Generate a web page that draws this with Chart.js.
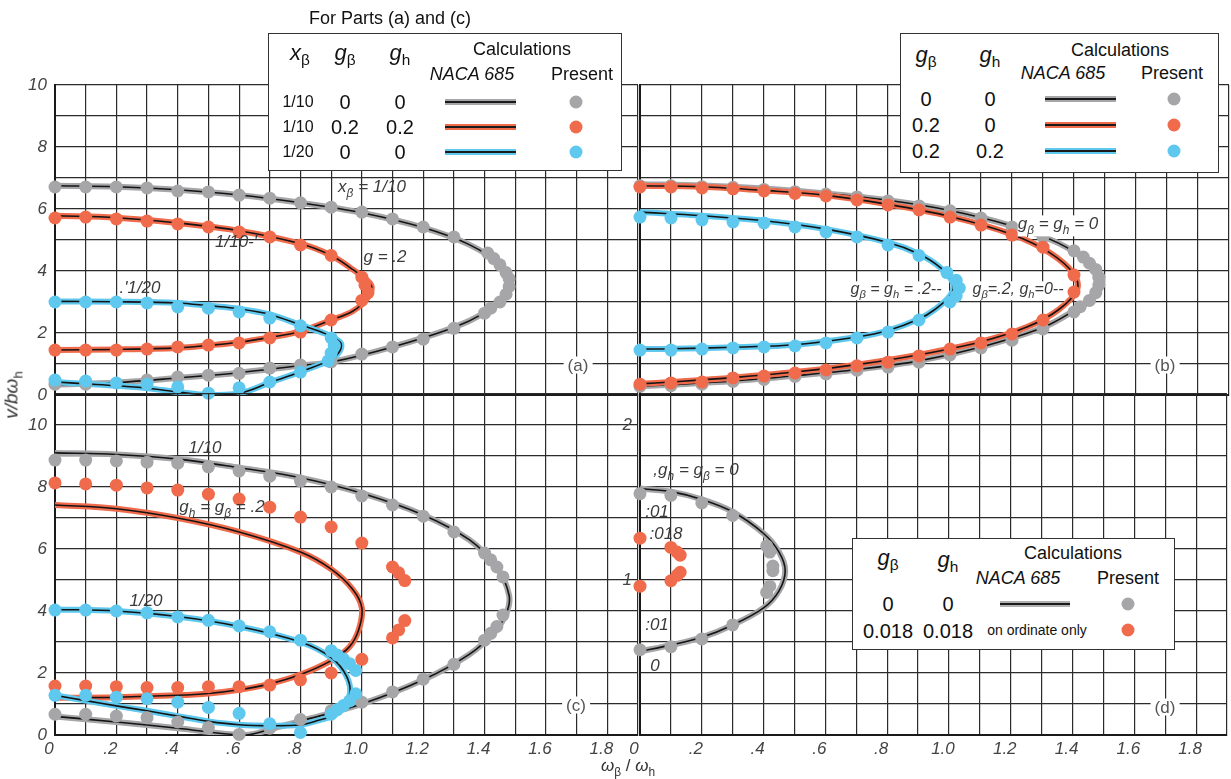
<!DOCTYPE html>
<html>
<head>
<meta charset="utf-8">
<script src="https://cdn.jsdelivr.net/npm/chart.js@4.4.0/dist/chart.umd.min.js"></script>
<style>
  body { margin: 0; background: #fff; width: 1231px; height: 779px; overflow: hidden; position: relative;
         font-family: "Liberation Sans", Arial, sans-serif; }
  canvas { position: absolute; left: 0; top: 0; }
  .t { position: absolute; transform: translate(-50%, -50%); white-space: nowrap; color: #111; font-size: 18px; line-height: 1; }
  .note { font-style: italic; color: #3a3a3a; font-size: 17px; }
  .panel { color: #555; font-size: 17px; background: #fff; padding: 0 4px; }
  .box { position: absolute; border: 1.5px solid #333; background: #fff; }
  .swatch { position: absolute; height: 6px; transform: translateY(-50%); }
  .swatch i { position: absolute; left: 0; right: 0; top: 2px; height: 2px; background: #1a1a1a; }
  .dot { position: absolute; width: 13px; height: 13px; border-radius: 50%; transform: translate(-50%, -50%); }
  sub { font-size: 70%; }
</style>
</head>
<body>
<canvas id="pa" width="1231" height="779"></canvas>
<canvas id="pb" width="1231" height="779"></canvas>
<canvas id="pc" width="1231" height="779"></canvas>
<canvas id="pd" width="1231" height="779"></canvas>
<div id="overlay"></div>
<script>
// ---- data: [omega_beta/omega_h, v/b omega_h] ----
// panel (a)
const aGrayLine = [[0,6.75],[0.2,6.72],[0.4,6.62],[0.6,6.45],[0.8,6.2],[1.0,5.88],[1.2,5.4],[1.35,4.85],[1.45,4.2],[1.48,3.6],[1.46,3.1],[1.4,2.65],[1.3,2.18],[1.1,1.55],[0.9,1.06],[0.8,0.95],[0.6,0.72],[0.4,0.55],[0.2,0.4],[0,0.33]];
const aOrangeLine = [[0,5.78],[0.2,5.72],[0.4,5.55],[0.6,5.3],[0.8,4.88],[0.9,4.5],[0.97,4.05],[1.03,3.55],[1.02,3.15],[0.97,2.7],[0.9,2.42],[0.8,2.05],[0.7,1.86],[0.6,1.7],[0.5,1.6],[0.4,1.52],[0.2,1.47],[0,1.45]];
const aBlueLine = [[0,3.02],[0.2,3.01],[0.4,2.97],[0.5,2.88],[0.6,2.78],[0.7,2.6],[0.8,2.26],[0.88,1.98],[0.93,1.7],[0.93,1.45],[0.9,1.15],[0.8,0.75],[0.7,0.4],[0.6,0.05],[0.5,0.0],[0.4,0.1],[0.3,0.22],[0.2,0.3],[0.1,0.36],[0,0.42]];
const aGrayDots = [[0,6.71],[0.1,6.71],[0.2,6.71],[0.3,6.68],[0.4,6.58],[0.5,6.55],[0.6,6.45],[0.7,6.35],[0.8,6.2],[0.9,6.06],[1.0,5.9],[1.1,5.68],[1.2,5.42],[1.3,5.1],[1.41,4.58],[1.43,4.4],[1.45,4.2],[1.47,3.95],[1.48,3.75],[1.48,3.5],[1.47,3.25],[1.45,3.0],[1.42,2.8],[1.4,2.64],[1.3,2.15],[1.2,1.8],[1.1,1.55],[1.0,1.32],[0.9,1.07],[0.8,0.97],[0.7,0.87],[0.6,0.7],[0.5,0.64],[0.4,0.58],[0.3,0.48],[0.1,0.35],[0,0.35]];
const aOrangeDots = [[0,5.71],[0.1,5.74],[0.2,5.68],[0.3,5.61],[0.4,5.52],[0.5,5.42],[0.6,5.26],[0.7,5.1],[0.8,4.84],[0.9,4.5],[1.0,3.8],[1.01,3.55],[1.02,3.3],[1.0,3.05],[0.9,2.42],[0.8,2.03],[0.7,1.84],[0.6,1.68],[0.5,1.61],[0.4,1.55],[0.3,1.48],[0.2,1.45],[0.1,1.45],[0,1.45]];
const aBlueDots = [[0,3.0],[0.1,3.0],[0.2,3.0],[0.3,2.97],[0.4,2.84],[0.5,2.8],[0.6,2.68],[0.7,2.48],[0.8,2.23],[0.9,1.84],[0.91,1.6],[0.9,1.35],[0.89,1.1],[0.8,0.74],[0.7,0.42],[0.6,0.23],[0.5,0.06],[0.4,0.26],[0.3,0.35],[0.2,0.39],[0.1,0.45],[0,0.48]];

// panel (b)
const bGrayLine = [[0,6.8],[0.2,6.76],[0.4,6.66],[0.6,6.5],[0.8,6.28],[1.0,5.95],[1.2,5.45],[1.35,4.9],[1.45,4.25],[1.49,3.75],[1.47,3.2],[1.4,2.72],[1.3,2.18],[1.1,1.55],[0.9,1.1],[0.7,0.82],[0.5,0.62],[0.3,0.45],[0.1,0.33],[0,0.28]];
const bOrangeLine = [[0,6.75],[0.2,6.72],[0.4,6.6],[0.6,6.44],[0.8,6.15],[1.0,5.76],[1.2,5.18],[1.32,4.6],[1.4,3.9],[1.41,3.4],[1.35,2.75],[1.25,2.2],[1.1,1.72],[0.9,1.3],[0.7,0.98],[0.5,0.74],[0.3,0.56],[0.1,0.42],[0,0.36]];
const bBlueLine = [[0,5.9],[0.2,5.78],[0.4,5.62],[0.6,5.35],[0.8,4.92],[0.9,4.55],[0.97,4.1],[1.01,3.6],[1.0,3.2],[0.95,2.75],[0.9,2.45],[0.8,2.08],[0.7,1.87],[0.5,1.62],[0.3,1.54],[0.1,1.49],[0,1.48]];
const bGrayDots = [[0,6.75],[0.1,6.75],[0.2,6.72],[0.3,6.7],[0.4,6.63],[0.5,6.56],[0.6,6.48],[0.7,6.39],[0.8,6.26],[0.9,6.1],[1.0,5.94],[1.1,5.71],[1.2,5.42],[1.3,5.1],[1.4,4.65],[1.43,4.45],[1.45,4.25],[1.47,4.05],[1.48,3.8],[1.48,3.55],[1.47,3.3],[1.45,3.05],[1.42,2.85],[1.4,2.68],[1.3,2.13],[1.2,1.77],[1.1,1.52],[1.0,1.29],[0.9,1.06],[0.8,0.9],[0.7,0.8],[0.6,0.68],[0.5,0.6],[0.4,0.5],[0.3,0.44],[0.2,0.35],[0.1,0.3],[0,0.28]];
const bOrangeDots = [[0,6.71],[0.1,6.71],[0.2,6.68],[0.3,6.65],[0.4,6.58],[0.5,6.5],[0.6,6.42],[0.7,6.29],[0.8,6.13],[0.9,5.97],[1.0,5.74],[1.1,5.48],[1.2,5.16],[1.3,4.77],[1.4,3.87],[1.4,3.32],[1.3,2.42],[1.2,1.97],[1.1,1.68],[1.0,1.48],[0.9,1.26],[0.8,1.06],[0.7,0.94],[0.6,0.81],[0.5,0.71],[0.4,0.61],[0.3,0.55],[0.2,0.42],[0.1,0.39],[0,0.35]];
const bBlueDots = [[0,5.74],[0.1,5.71],[0.2,5.65],[0.3,5.58],[0.4,5.55],[0.5,5.42],[0.6,5.26],[0.7,5.1],[0.8,4.84],[0.9,4.5],[0.99,3.95],[1.02,3.7],[1.03,3.45],[1.02,3.2],[1.0,3.0],[0.9,2.42],[0.8,2.03],[0.7,1.84],[0.6,1.68],[0.5,1.58],[0.4,1.55],[0.3,1.52],[0.2,1.48],[0.1,1.45],[0,1.45]];

// panel (c)
const cGrayLine = [[0,9.1],[0.2,9.05],[0.4,8.9],[0.6,8.62],[0.8,8.3],[1.0,7.8],[1.2,7.1],[1.35,6.3],[1.44,5.4],[1.48,4.5],[1.47,3.9],[1.43,3.3],[1.35,2.6],[1.2,1.78],[1.0,1.0],[0.8,0.45],[0.7,0.18],[0.62,0.0],[0.4,0.22],[0.2,0.42],[0,0.6]];
const cOrangeLine = [[0,7.42],[0.2,7.3],[0.4,7.0],[0.6,6.55],[0.8,5.9],[0.9,5.35],[0.97,4.7],[1.0,4.1],[0.99,3.4],[0.96,2.85],[0.9,2.4],[0.8,1.95],[0.7,1.65],[0.6,1.46],[0.5,1.34],[0.4,1.28],[0.2,1.22],[0,1.2]];
const cBlueLine = [[0,4.05],[0.2,4.0],[0.4,3.82],[0.6,3.5],[0.8,3.0],[0.9,2.5],[0.95,1.9],[0.96,1.3],[0.92,0.7],[0.85,0.45],[0.8,0.33],[0.7,0.3],[0.6,0.33],[0.5,0.44],[0.4,0.61],[0.3,0.78],[0.2,0.94],[0.1,1.11],[0,1.28]];
const cGrayDots = [[0,8.87],[0.1,8.87],[0.2,8.84],[0.3,8.8],[0.4,8.77],[0.5,8.65],[0.6,8.52],[0.7,8.35],[0.8,8.19],[0.9,8.0],[1.0,7.71],[1.1,7.42],[1.2,7.06],[1.3,6.55],[1.4,5.87],[1.42,5.65],[1.44,5.42],[1.46,5.1],[1.46,3.87],[1.44,3.5],[1.42,3.28],[1.4,3.06],[1.3,2.28],[1.2,1.8],[1.1,1.39],[1.0,1.06],[0.9,0.78],[0.8,0.5],[0.7,0.22],[0.6,0.02],[0.5,0.24],[0.4,0.42],[0.3,0.56],[0.2,0.61],[0.1,0.67],[0,0.67]];
const cOrangeDots = [[0,8.13],[0.1,8.1],[0.2,8.06],[0.3,7.97],[0.4,7.9],[0.5,7.77],[0.6,7.61],[0.7,7.35],[0.8,7.03],[0.9,6.71],[1.0,6.19],[1.1,5.42],[1.12,5.23],[1.14,4.98],[1.14,3.69],[1.12,3.39],[1.1,3.13],[1.0,2.44],[0.9,2.0],[0.8,1.78],[0.7,1.61],[0.6,1.56],[0.5,1.56],[0.4,1.53],[0.3,1.53],[0.2,1.56],[0.1,1.58],[0,1.58]];
const cBlueDots = [[0,4.03],[0.1,4.03],[0.2,4.0],[0.3,3.94],[0.4,3.81],[0.5,3.7],[0.6,3.52],[0.7,3.33],[0.8,3.06],[0.9,2.72],[0.92,2.58],[0.94,2.45],[0.96,2.3],[0.98,2.08],[0.98,1.33],[0.96,1.1],[0.94,0.95],[0.92,0.82],[0.9,0.67],[0.8,0.08],[0.7,0.36],[0.6,0.7],[0.5,0.89],[0.4,1.06],[0.3,1.17],[0.2,1.22],[0.1,1.28],[0,1.28]];

// panel (d)
const dGrayLine = [[0,1.59],[0.1,1.57],[0.2,1.52],[0.3,1.44],[0.4,1.3],[0.45,1.18],[0.47,1.06],[0.45,0.93],[0.4,0.82],[0.3,0.71],[0.2,0.63],[0.1,0.58],[0,0.54]];
const dGrayDots = [[0,1.557],[0.1,1.546],[0.2,1.497],[0.3,1.416],[0.41,1.22],[0.42,1.18],[0.43,1.09],[0.43,1.06],[0.42,0.96],[0.41,0.92],[0.3,0.71],[0.2,0.62],[0.1,0.57],[0,0.55]];
const dOrangeDots = [[0,1.27],[0,0.96],[0.1,1.21],[0.12,1.18],[0.13,1.16],[0.13,1.05],[0.12,1.03],[0.1,0.995]];

// ---- styles ----
const GRAY = '#a6a6a8', ORANGE = '#f06b4c', BLUE = '#5ec8ee';
const xy = pts => pts.map(p => ({x: p[0], y: p[1]}));

const curve = (pts, color, order) => [
    {data: xy(pts), showLine: true, borderColor: color, borderWidth: 6, pointRadius: 0, tension: 0.35, order: order + 1},
    {data: xy(pts), showLine: true, borderColor: '#141414', borderWidth: 1.6, pointRadius: 0, tension: 0.35, order: order}
];
const dots = (pts, color, order) => ({
    data: xy(pts), showLine: false, pointRadius: 6.5, pointBackgroundColor: color,
    pointBorderWidth: 0, order: order, clip: false
});

const xLabel = v => {
    const t = Math.round(v * 10);
    if (t % 2) return '';
    if (t === 0) return '0';
    if (t < 10) return '.' + t;
    return (t / 10).toFixed(1);
};
const yLabelBig = v => {
    const r = Math.round(v);
    return (r % 2 === 0 && r <= 10) ? String(r) : '';
};
const yLabelSmall = v => {
    const r = Math.round(v * 10);
    return r === 10 ? '1' : r === 20 ? '2' : '';
};

const tickFont = {family: '"Liberation Sans", Arial, sans-serif', size: 17, style: 'italic'};

function makePanel(id, area, yMax, yStep, showX, yFmt, datasets) {
    const yW = area.yW, xH = showX ? 30 : 0;
    new Chart(document.getElementById(id), {
        type: 'scatter',
        data: {datasets: datasets},
        options: {
            responsive: false,
            animation: false,
            events: [],
            layout: {
                autoPadding: false,
                padding: {left: area.left - yW, right: 1231 - area.right, top: area.top, bottom: 779 - area.bottom - xH}
            },
            plugins: {legend: {display: false}, tooltip: {enabled: false}},
            scales: {
                x: {
                    type: 'linear', min: 0, max: 1.9,
                    afterFit: s => { s.height = xH; },
                    grid: {color: '#2b2b2b', lineWidth: 1.2, drawTicks: false},
                    border: {color: '#1a1a1a', width: 2},
                    ticks: {display: showX, stepSize: 0.1, autoSkip: false, maxRotation: 0, padding: 4,
                            labelOffset: -6, color: '#444', font: tickFont, callback: xLabel}
                },
                y: {
                    type: 'linear', min: 0, max: yMax,
                    afterFit: s => { s.width = yW; },
                    grid: {color: '#2b2b2b', lineWidth: 1.2, drawTicks: false},
                    border: {color: '#1a1a1a', width: 2},
                    ticks: {display: yW > 0, stepSize: yStep, autoSkip: false, padding: 8,
                            color: '#444', font: tickFont, callback: yFmt}
                }
            }
        }
    });
}

makePanel('pa', {left: 55, right: 638, top: 85, bottom: 395, yW: 40}, 10, 1, false, yLabelBig, [
    dots(aBlueDots, BLUE, 1), dots(aOrangeDots, ORANGE, 2), dots(aGrayDots, GRAY, 3),
    ...curve(aBlueLine, BLUE, 5), ...curve(aOrangeLine, ORANGE, 7), ...curve(aGrayLine, GRAY, 9)
]);
makePanel('pb', {left: 640, right: 1229, top: 85, bottom: 395, yW: 0}, 10, 1, false, yLabelBig, [
    dots(bBlueDots, BLUE, 1), dots(bOrangeDots, ORANGE, 2), dots(bGrayDots, GRAY, 3),
    ...curve(bBlueLine, BLUE, 5), ...curve(bOrangeLine, ORANGE, 7), ...curve(bGrayLine, GRAY, 9)
]);
makePanel('pc', {left: 55, right: 638, top: 394, bottom: 735, yW: 40}, 11, 1, true, yLabelBig, [
    dots(cBlueDots, BLUE, 1), dots(cOrangeDots, ORANGE, 2), dots(cGrayDots, GRAY, 3),
    ...curve(cBlueLine, BLUE, 5), ...curve(cOrangeLine, ORANGE, 7), ...curve(cGrayLine, GRAY, 9)
]);
makePanel('pd', {left: 640, right: 1229, top: 394, bottom: 735, yW: 20}, 2.2, 0.2, true, yLabelSmall, [
    dots(dOrangeDots, ORANGE, 1), dots(dGrayDots, GRAY, 2),
    ...curve(dGrayLine, GRAY, 5)
]);

// ---- text, legends and annotations ----
const overlay = document.getElementById('overlay');
function text(html, x, y, cls, style) {
    const d = document.createElement('div');
    d.className = 't ' + (cls || '');
    d.innerHTML = html;
    d.style.left = x + 'px';
    d.style.top = y + 'px';
    if (style) d.style.cssText += style;
    overlay.appendChild(d);
}
function box(l, t, w, h) {
    const d = document.createElement('div');
    d.className = 'box';
    d.style.cssText = `left:${l}px;top:${t}px;width:${w}px;height:${h}px;`;
    overlay.appendChild(d);
}
function swatch(x1, x2, y, color) {
    const d = document.createElement('div');
    d.className = 'swatch';
    d.style.cssText = `left:${x1}px;top:${y}px;width:${x2 - x1}px;background:${color};`;
    d.innerHTML = '<i></i>';
    overlay.appendChild(d);
}
function dot(x, y, color) {
    const d = document.createElement('div');
    d.className = 'dot';
    d.style.cssText = `left:${x}px;top:${y}px;background:${color};`;
    overlay.appendChild(d);
}
const gb = '<i>g</i><sub>β</sub>', gh = '<i>g</i><sub>h</sub>';

// legend for (a) and (c)
text('For Parts (a) and (c)', 390, 18, '', 'font-size:18px;');
box(268, 33, 352, 136);
text('<i>x</i><sub>β</sub>', 300, 55, '', 'font-size:22px;');
text(gb, 345, 55, '', 'font-size:22px;');
text(gh, 400, 55, '', 'font-size:22px;');
text('Calculations', 522, 49);
text('<i>NACA 685</i>', 472, 74);
text('Present', 582, 74);
const aRows = [['1/10', '0', '0', GRAY], ['1/10', '0.2', '0.2', ORANGE], ['1/20', '0', '0', BLUE]];
aRows.forEach((r, i) => {
    const y = 102 + i * 25;
    text(r[0], 298, y, '', 'font-size:16px;');
    text(r[1], 345, y, '', 'font-size:20px;');
    text(r[2], 400, y, '', 'font-size:20px;');
    swatch(445, 516, y, r[3]);
    dot(576, y, r[3]);
});

// legend for (b)
box(900, 33, 317, 138);
text(gb, 926, 57, '', 'font-size:22px;');
text(gh, 990, 57, '', 'font-size:22px;');
text('Calculations', 1120, 50);
text('<i>NACA 685</i>', 1063, 73);
text('Present', 1172, 73);
const bRows = [['0', '0', GRAY], ['0.2', '0', ORANGE], ['0.2', '0.2', BLUE]];
bRows.forEach((r, i) => {
    const y = 99 + i * 26;
    text(r[0], 926, y, '', 'font-size:20px;');
    text(r[1], 990, y, '', 'font-size:20px;');
    swatch(1045, 1116, y, r[2]);
    dot(1174, y, r[2]);
});

// legend for (d)
box(852, 538, 321, 110);
text(gb, 888, 560, '', 'font-size:22px;');
text(gh, 948, 562, '', 'font-size:22px;');
text('Calculations', 1073, 553);
text('<i>NACA 685</i>', 1018, 578);
text('Present', 1128, 578);
text('0', 888, 604, '', 'font-size:20px;');
text('0', 948, 604, '', 'font-size:20px;');
swatch(1000, 1070, 604, '#b0b0b0');
dot(1128, 604, GRAY);
text('0.018', 888, 631, '', 'font-size:20px;');
text('0.018', 948, 631, '', 'font-size:20px;');
text('on ordinate only', 1037, 630, '', 'font-size:14px;');
dot(1128, 630, ORANGE);

// panel tags
text('(a)', 578, 365, 'panel');
text('(b)', 1165, 365, 'panel');
text('(c)', 576, 705, 'panel');
text('(d)', 1165, 707, 'panel');

// curve annotations
text('<i>x</i><sub>β</sub> = 1/10', 372, 189, 'note');
text('g = .2', 385, 256, 'note');
text('1/10-\'', 236, 241, 'note');
text('.\'1/20', 140, 287, 'note');
text(gb + ' = ' + gh + ' = 0', 1058, 226, 'note', 'background:#fff;');
text(gb + ' = ' + gh + ' = .2--', 896, 291, 'note', 'background:#fff;font-size:16px;');
text(gb + '=.2, ' + gh + '=0--', 1018, 291, 'note', 'background:#fff;font-size:16px;');
text('1/10', 205, 447, 'note');
text(gh + ' = ' + gb + ' = .2', 222, 509, 'note');
text('1/20', 146, 600, 'note');
text(',' + gh + ' = ' + gb + ' = 0', 696, 472, 'note');
text(':01', 657, 511, 'note');
text(':018', 666, 533, 'note');
text(':01', 657, 624, 'note');
text('0', 655, 665, 'note');

// axis titles
text('<i>ω</i><sub>β</sub> / <i>ω</i><sub>h</sub>', 628, 768, '', 'font-size:17px;color:#333;');
text('<i>v/bω</i><sub>h</sub>', 13, 395, '', 'font-size:19px;color:#333;transform:translate(-50%,-50%) rotate(-90deg);');
</script>
</body>
</html>
